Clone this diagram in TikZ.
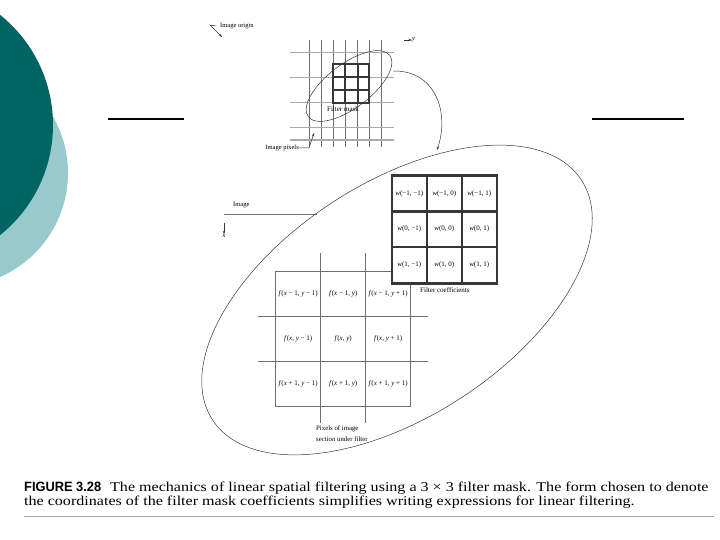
\documentclass[tikz,border=0pt]{standalone}
\usepackage{fontspec}
\setmainfont{Liberation Serif}
\newfontfamily\capsans[FakeStretch=0.95]{Liberation Sans}
\newfontfamily\capserif[FakeStretch=1.19]{Liberation Serif}
\usetikzlibrary{positioning}
\usetikzlibrary{arrows.meta}

\definecolor{tealdark}{RGB}{0,100,98}
\definecolor{teallight}{RGB}{152,202,204}
\definecolor{inkgray}{RGB}{55,55,55}
\definecolor{gridgray}{RGB}{110,110,110}
\definecolor{palegray}{RGB}{170,170,170}

% italic variables in the labels
\newcommand{\varf}{\textit{f}}
\newcommand{\varw}{\textit{w}}
\newcommand{\varx}{\textit{x}}
\newcommand{\vary}{\textit{y}}

\tikzset{
	gridline/.style={draw=gridgray, line width=0.6pt},
	paleline/.style={draw=palegray, line width=0.6pt},
	maskline/.style={draw=inkgray, line width=2pt},
	coefline/.style={draw=inkgray, line width=2.4pt},
	tinytext/.style={font=\fontsize{6.5}{7}\selectfont, inner sep=0pt},
	labeltext/.style={font=\fontsize{6.8}{7.5}\selectfont, inner sep=0pt},
	celltext/.style={font=\fontsize{7}{8}\selectfont, inner sep=0pt},
	coeftext/.style={font=\fontsize{7}{8}\selectfont, inner sep=0pt},
	captext/.style={anchor=base west, inner sep=0pt, font=\fontsize{13.5}{15}\capserif},
	pointer/.style={draw=inkgray, line width=0.5pt, -{Stealth[length=3.5pt,width=2.5pt]}},
}

\begin{document}
\begin{tikzpicture}[x=1pt,y=-1pt]
	\useasboundingbox (0,0) rectangle (720,540);

	% Slide decoration on the left
	\begin{scope}
		\clip (0,0) rectangle (720,540);
		\fill[teallight] (-45.5,173) circle (113.5);
		\fill[tealdark] (-88,125) circle (141);
	\end{scope}

	% Title rules
	\draw[line width=2pt] (108,119.5) -- (184,119.5);
	\draw[line width=2pt] (592,119.5) -- (684,119.5);

	% Image pixels grid (top)
	\draw[gridline] (309.3,40) -- (309.3,147);
	\draw[gridline] (321,40) -- (321,147);
	\draw[gridline] (333.3,40) -- (333.3,147);
	\draw[gridline] (345,40) -- (345,147);
	\draw[gridline] (357.7,40) -- (357.7,147);
	\draw[gridline] (369.3,40) -- (369.3,147);
	\draw[gridline] (381.7,40) -- (381.7,147);
	\draw[paleline] (290,52.7) -- (394,52.7);
	\draw[paleline] (290,77.3) -- (394,77.3);
	\draw[paleline] (290,102.7) -- (394,102.7);
	\draw[paleline] (290,127.7) -- (394,127.7);
	\draw[draw=palegray, line width=1.3pt] (290,140) -- (394,140);

	% Filter mask
	\draw[maskline] (333.3,64.3) rectangle (369.3,102.7);
	\draw[maskline] (345,64.3) -- (345,102.7);
	\draw[maskline] (357.7,64.3) -- (357.7,102.7);
	\draw[maskline] (333.3,77.3) -- (369.3,77.3);
	\draw[maskline] (333.3,90) -- (369.3,90);
	\node[tinytext, font=\fontsize{7}{8}\selectfont] (masklbl) at (343,109) {Filter mask};

	% Ellipse round the mask
	\draw[inkgray, line width=0.5pt, rotate around={37:(349,86)}] (349,86) ellipse (51 and 22);

	% Top labels and pointers
	\node[tinytext, anchor=west] (originlbl) at (220,26) {Image origin};
	\coordinate (originbend) at (210,25);
	\coordinate (origintip) at (222,37);
	\draw[pointer] ([xshift=-4pt]originlbl.west) -- (originbend) -- (origintip);

	\node[tinytext, anchor=west] (ylbl) at (412,40) {\vary};
	\coordinate (ytail) at (404,40);
	\draw[pointer] (ytail) -- (ylbl.west);

	\node[tinytext, anchor=east] (pixlbl) at (299,148) {Image pixels};
	\coordinate (pixbend) at (309,148);
	\coordinate (pixtip) at (314,133);
	\draw[pointer] (pixlbl.east) -- (pixbend) -- (pixtip);

	% Connector to the enlarged view
	\coordinate (maskedge) at (393,71);
	\coordinate (bigtop) at (437,150);
	\draw[pointer] (maskedge) .. controls (435,70) and (450,112) .. (bigtop);

	% Image border and x axis
	\node[tinytext, anchor=west] (imglbl) at (233,205) {Image};
	\draw[draw=gridgray, line width=1pt] (224,215) -- (317,215);
	\coordinate (xtail) at (224,223);
	\node[tinytext] (xlbl) at (224,236) {\varx};
	\draw[pointer] (xtail) -- (xlbl.north);

	% Big ellipse
	\draw[inkgray, line width=0.5pt, rotate around={33:(397,300)}] (397,300) ellipse (220 and 117);

	% Pixels of image section under filter
	\draw[gridline] (275.7,271) rectangle (410.7,406.7);
	\draw[gridline] (320.3,253) -- (320.3,423);
	\draw[gridline] (365.3,253) -- (365.3,423);
	\draw[gridline] (257.7,316) -- (428,316);
	\draw[gridline] (257.7,361) -- (428,361);

	\node[celltext] (f11) at (298.2,293.6) {\varf(\varx\ − 1, \vary\ − 1)};
	\node[celltext] (f12) at (343.2,293.6) {\varf(\varx\ − 1, \vary)};
	\node[celltext] (f13) at (388.2,293.6) {\varf(\varx\ − 1, \vary\ + 1)};
	\node[celltext] (f21) at (298.2,338.8) {\varf(\varx, \vary\ − 1)};
	\node[celltext] (f22) at (343.2,338.8) {\varf(\varx, \vary)};
	\node[celltext] (f23) at (388.2,338.8) {\varf(\varx, \vary\ + 1)};
	\node[celltext] (f31) at (298.2,384) {\varf(\varx\ + 1, \vary\ − 1)};
	\node[celltext] (f32) at (343.2,384) {\varf(\varx\ + 1, \vary)};
	\node[celltext] (f33) at (388.2,384) {\varf(\varx\ + 1, \vary\ + 1)};

	\node[labeltext, anchor=west] (seclblone) at (316,429) {Pixels of image};
	\node[labeltext, anchor=west] (seclbltwo) at (316,438.7) {section under filter};

	% Filter coefficients
	\filldraw[fill=white, coefline] (391.7,175.7) rectangle (496.7,283.3);
	\draw[coefline] (427,175.7) -- (427,283.3);
	\draw[coefline] (461.7,175.7) -- (461.7,283.3);
	\draw[coefline] (391.7,211.7) -- (496.7,211.7);
	\draw[coefline] (391.7,247) -- (496.7,247);

	\node[coeftext] (w11) at (409.3,193.7) {\varw(−1, −1)};
	\node[coeftext] (w12) at (444.3,193.7) {\varw(−1, 0)};
	\node[coeftext] (w13) at (479.2,193.7) {\varw(−1, 1)};
	\node[coeftext] (w21) at (409.3,229.3) {\varw(0, −1)};
	\node[coeftext] (w22) at (444.3,229.3) {\varw(0, 0)};
	\node[coeftext] (w23) at (479.2,229.3) {\varw(0, 1)};
	\node[coeftext] (w31) at (409.3,265.2) {\varw(1, −1)};
	\node[coeftext] (w32) at (444.3,265.2) {\varw(1, 0)};
	\node[coeftext] (w33) at (479.2,265.2) {\varw(1, 1)};

	\node[labeltext, font=\fontsize{7}{8}\selectfont, anchor=west] (coeflbl) at (420,290) {Filter coefficients};

	% Caption
	\node[captext] (capone) at (24,491)
		{{\fontsize{13.5}{15}\capsans\bfseries FIGURE 3.28}\hspace{9pt}The mechanics of linear spatial filtering using a 3~×~3 filter mask. The form chosen to denote};
	\node[captext] (captwo) at (24,505.5)
		{the coordinates of the filter mask coefficients simplifies writing expressions for linear filtering.};
	\draw[draw=palegray, line width=0.8pt] (24,516.7) -- (714,516.7);

\end{tikzpicture}
\end{document}
